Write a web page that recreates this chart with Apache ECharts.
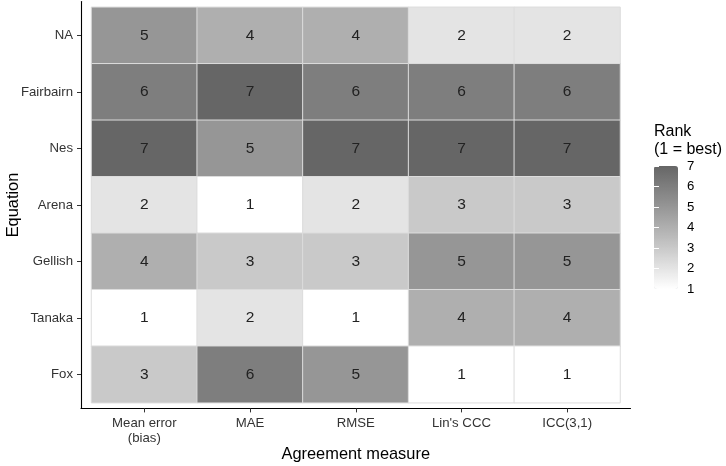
<!DOCTYPE html>
<html>
<head>
<meta charset="utf-8">
<script src="https://cdn.jsdelivr.net/npm/echarts@6/dist/echarts.min.js"></script>
<style>
  html, body { margin: 0; padding: 0; background: #fff; }
  #chart { width: 726px; height: 466px; }
</style>
</head>
<body>
<div id="chart"></div>
<script>
const measures = ["Mean error\n(bias)", "MAE", "RMSE", "Lin's CCC", "ICC(3,1)"];
const equations = ["NA", "Fairbairn", "Nes", "Arena", "Gellish", "Tanaka", "Fox"];
// ranks per equation, in measure order
const rankNA        = [5, 4, 4, 2, 2];
const rankFairbairn = [6, 7, 6, 6, 6];
const rankNes       = [7, 5, 7, 7, 7];
const rankArena     = [2, 1, 2, 3, 3];
const rankGellish   = [4, 3, 3, 5, 5];
const rankTanaka    = [1, 2, 1, 4, 4];
const rankFox       = [3, 6, 5, 1, 1];
const legendTicks = [1, 2, 3, 4, 5, 6, 7];

const rows = [rankNA, rankFairbairn, rankNes, rankArena, rankGellish, rankTanaka, rankFox];
const cells = [];
rows.forEach((r, i) => r.forEach((v, j) => cells.push([j, i, v])));

// white -> grey40, stepped in Lab like ggplot
const greys = ["#ffffff", "#e4e4e4", "#c9c9c9", "#afafaf", "#969696", "#7e7e7e", "#666666"];

const font = "Liberation Sans";
var chart = echarts.init(document.getElementById('chart'));

chart.setOption({
    animation: false,
    textStyle: { fontFamily: font },
    title: {
        text: "Rank\n(1 = best)",
        left: 654,
        top: 123,
        padding: 0,
        textStyle: { fontFamily: font, fontSize: 16, fontWeight: "normal", color: "#000", lineHeight: 18 }
    },
    grid: [
        { left: 91.5, right: 106, top: 7.3, bottom: 63.3, outerBoundsMode: "none" },   // tiles
        { left: 81, right: 95.5, top: 1.5, bottom: 57.5, outerBoundsMode: "none" },    // axis lines
        { left: 654, top: 166, width: 24, height: 123, outerBoundsMode: "none" }       // legend ticks
    ],
    xAxis: [
        {
            gridIndex: 0,
            type: "category",
            data: measures,
            offset: 5.7,
            axisLine: { show: false },
            axisTick: { show: true, alignWithLabel: true, length: 4, lineStyle: { color: "#333" } },
            axisLabel: { color: "#333", fontSize: 13.2, margin: 7, lineHeight: 15 },
            splitLine: { show: false },
            name: "Agreement measure",
            nameLocation: "middle",
            nameGap: 38.5,
            nameMoveOverlap: false,
            nameTextStyle: { color: "#000", fontSize: 16.4 }
        },
        {
            gridIndex: 1, type: "value", min: 0, max: 1,
            axisLine: { show: true, lineStyle: { color: "#000", width: 1.1 } },
            axisTick: { show: false }, axisLabel: { show: false }, splitLine: { show: false }
        },
        {
            gridIndex: 2, type: "value", show: false
        }
    ],
    yAxis: [
        {
            gridIndex: 0,
            type: "category",
            data: equations,
            inverse: true,
            offset: 10.5,
            axisLine: { show: false },
            axisTick: { show: true, alignWithLabel: true, length: 4, lineStyle: { color: "#333" } },
            axisLabel: { color: "#333", fontSize: 13.2, margin: 8 },
            splitLine: { show: false },
            name: "Equation",
            nameLocation: "middle",
            nameGap: 60,
            nameRotate: 90,
            nameMoveOverlap: false,
            nameTextStyle: { color: "#000", fontSize: 16.4 }
        },
        {
            gridIndex: 1, type: "value", min: 0, max: 1,
            axisLine: { show: true, lineStyle: { color: "#000", width: 1.1 } },
            axisTick: { show: false }, axisLabel: { show: false }, splitLine: { show: false }
        },
        {
            gridIndex: 2, type: "value", min: 1, max: 7, interval: 1,
            position: "right", z: 10,
            axisLine: { show: false },
            axisTick: { show: true, inside: true, length: 5, lineStyle: { color: "#fff", width: 1 } },
            axisLabel: { color: "#000", fontSize: 13.2, margin: 9, formatter: v => legendTicks.includes(v) ? String(v) : "" },
            splitLine: { show: false }
        },
        {
            gridIndex: 2, type: "value", min: 1, max: 7, interval: 1,
            position: "left", z: 10,
            axisLine: { show: false },
            axisTick: { show: true, inside: true, length: 5, lineStyle: { color: "#fff", width: 1 } },
            axisLabel: { show: false },
            splitLine: { show: false }
        }
    ],
    visualMap: {
        type: "continuous",
        min: 1,
        max: 7,
        seriesIndex: 0,
        calculable: false,
        orient: "vertical",
        left: 654,
        top: 166,
        itemWidth: 24,
        itemHeight: 123,
        padding: 0,
        text: null,
        inRange: { color: greys }
    },
    series: [
        {
            type: "heatmap",
            xAxisIndex: 0,
            yAxisIndex: 0,
            data: cells,
            itemStyle: { borderColor: "#dcdcdc", borderWidth: 1 },
            label: { show: true, color: "#222", fontSize: 15.5, fontFamily: font },
            emphasis: { disabled: true }
        }
    ]
});

window.addEventListener("resize", () => {
    if (chart) chart.resize();
});
</script>
</body>
</html>
